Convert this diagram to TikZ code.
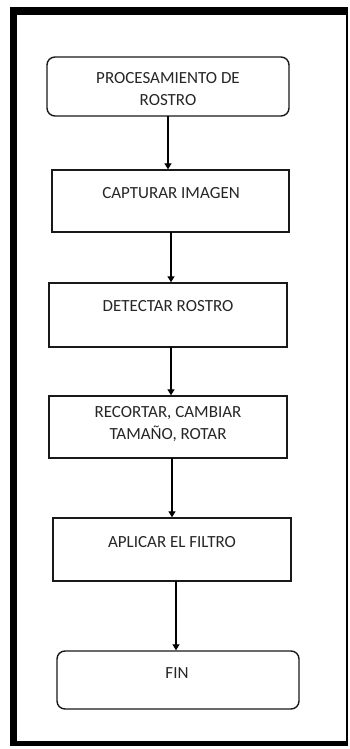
\documentclass[tikz,border=0pt]{standalone}
\usepackage{fontspec}
\setmainfont{Carlito}
\usetikzlibrary{arrows.meta,calc}
\begin{document}
\begin{tikzpicture}[x=1pt,y=-1pt,
  box/.style={draw=black!90,line width=1.4pt,inner sep=0pt,rectangle},
  rbox/.style={box,rounded corners=8pt},
  lbl/.style={font=\fontsize{17}{22}\selectfont,text=black!85,align=center,inner sep=0pt},
  arr/.style={draw=black,line width=1.3pt,-{Triangle[width=7pt,length=6pt]}}]
\useasboundingbox (0,0) rectangle (349,749);
% frame
\fill[black] (10,7) rectangle (348,746);
\fill[white] (17,15) rectangle (346,741);
% boxes
\node[rbox,minimum width=242pt,minimum height=59pt] (b1) at (168,86.5) {};
\node[box,minimum width=237pt,minimum height=62pt] (b2) at (170.5,201) {};
\node[box,minimum width=238pt,minimum height=64pt] (b3) at (168,315) {};
\node[box,minimum width=238pt,minimum height=62pt] (b4) at (168,427) {};
\node[box,minimum width=238pt,minimum height=63pt] (b5) at (172,549.5) {};
\node[rbox,minimum width=242pt,minimum height=58pt] (b6) at (178,680) {};
% labels
\node[lbl] (t1) at (168,89.5) {PROCESAMIENTO DE\\ROSTRO};
\node[lbl] (t2) at (171,193) {CAPTURAR IMAGEN};
\node[lbl] (t3) at (168,306) {DETECTAR ROSTRO};
\node[lbl] (t4) at (168,424) {RECORTAR, CAMBIAR\\TAMAÑO, ROTAR};
\node[lbl] (t5) at (172,542) {APLICAR EL FILTRO};
\node[lbl] (t6) at (177,673) {FIN};
% arrows
\coordinate (a1) at (168,116);
\coordinate (a2) at (171,232);
\coordinate (a3) at (171,347);
\coordinate (a4) at (172,458);
\coordinate (a5) at (176,581);
\draw[arr] (a1) -- (a1 |- b2.north);
\draw[arr] (a2) -- (a2 |- b3.north);
\draw[arr] (a3) -- (a3 |- b4.north);
\draw[arr] (a4) -- (a4 |- b5.north);
\draw[arr] (a5) -- (a5 |- b6.north);
\end{tikzpicture}
\end{document}
